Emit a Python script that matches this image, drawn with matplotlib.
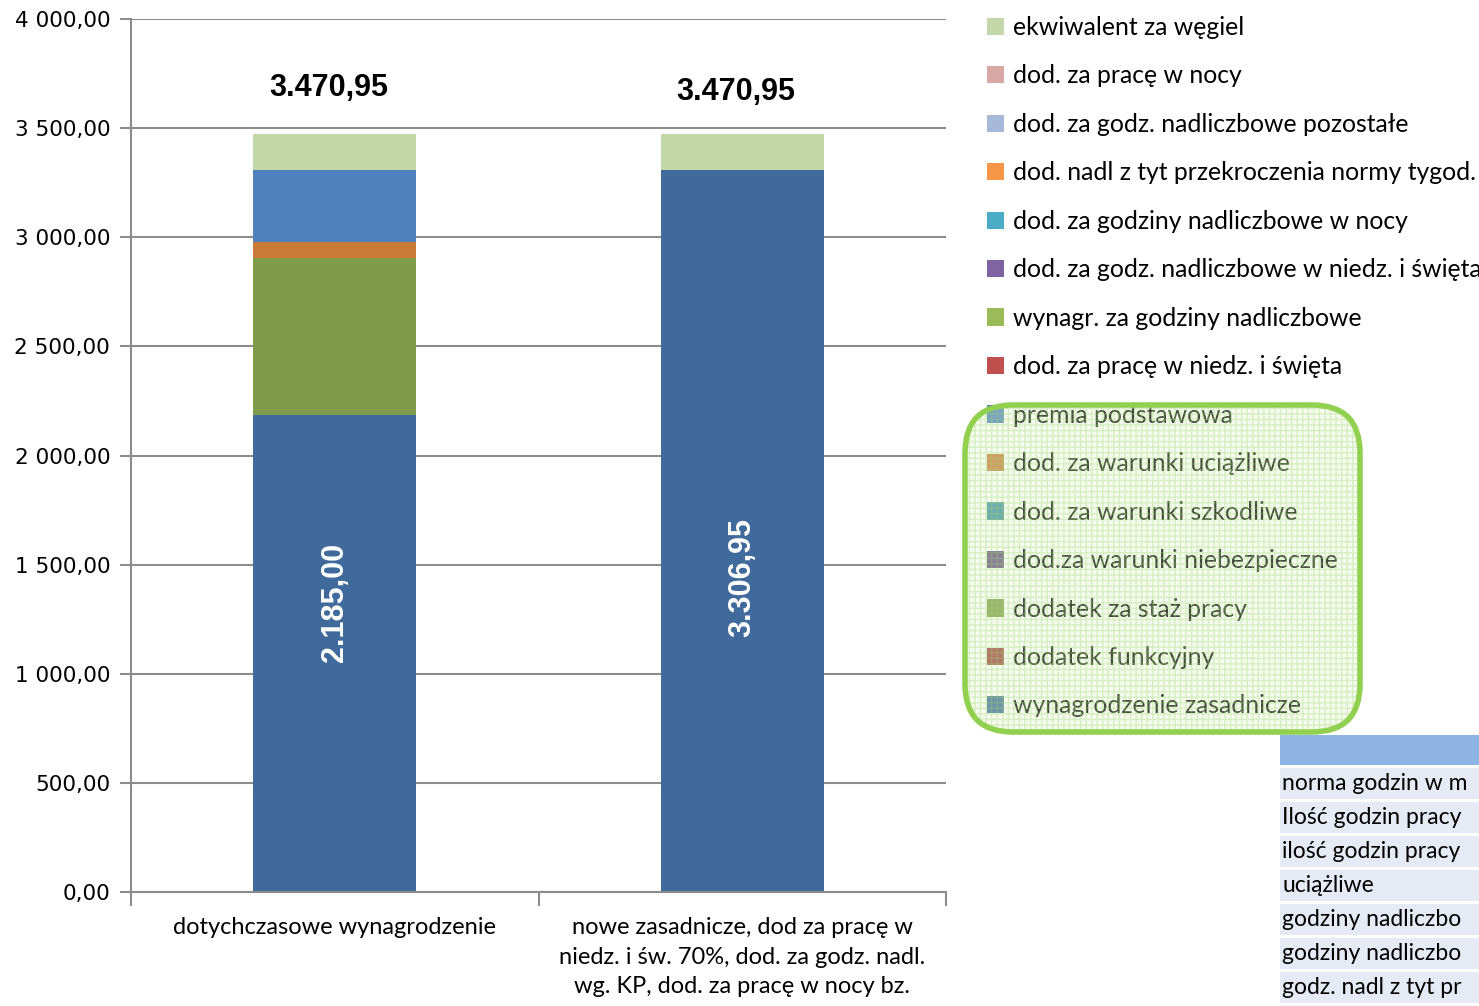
import numpy as np
import matplotlib
matplotlib.use('Agg')
import matplotlib.pyplot as plt
from matplotlib.patches import FancyBboxPatch, Rectangle
from matplotlib.ticker import FuncFormatter, FixedLocator
from matplotlib.transforms import IdentityTransform

# categories on the x axis
categories = ['dotychczasowe wynagrodzenie',
              'nowe zasadnicze, dod za pracę w\nniedz. i św. 70%, dod. za godz. nadl.\nwg. KP, dod. za pracę w nocy bz.']

# series from the bottom of the stack to the top
series_names = ['wynagrodzenie zasadnicze', 'dodatek funkcyjny', 'dodatek za staż pracy',
                'dod.za warunki niebezpieczne', 'dod. za warunki szkodliwe', 'dod. za warunki uciążliwe',
                'premia podstawowa', 'dod. za pracę w niedz. i święta', 'wynagr. za godziny nadliczbowe',
                'dod. za godz. nadliczbowe w niedz. i święta', 'dod. za godziny nadliczbowe w nocy',
                'dod. nadl z tyt przekroczenia normy tygod.', 'dod. za godz. nadliczbowe pozostałe',
                'dod. za pracę w nocy', 'ekwiwalent za węgiel']
series_colors = ['#3F6A9B', '#9E413E', '#7F9A48', '#654F80', '#3C8DA3', '#CA7B3A',
                 '#4F81BD', '#C0504D', '#9BBB59', '#8064A2', '#4BACC6',
                 '#F79646', '#A7B9D9', '#DAA7A7', '#C4D7A9']
# values per series: [dotychczasowe, nowe]
wynagrodzenie_zasadnicze = [2185.00, 3306.95]
dodatek_funkcyjny = [0, 0]
dodatek_staz = [721.05, 0]
dod_niebezpieczne = [0, 0]
dod_szkodliwe = [0, 0]
dod_uciazliwe = [72.00, 0]
premia_podstawowa = [328.90, 0]
dod_niedz = [0, 0]
wynagr_nadliczbowe = [0, 0]
dod_nadl_niedz = [0, 0]
dod_nadl_noc = [0, 0]
dod_nadl_norma = [0, 0]
dod_nadl_pozostale = [0, 0]
dod_noc = [0, 0]
ekwiwalent_wegiel = [164.00, 164.00]

series_values = [wynagrodzenie_zasadnicze, dodatek_funkcyjny, dodatek_staz, dod_niebezpieczne,
                 dod_szkodliwe, dod_uciazliwe, premia_podstawowa, dod_niedz, wynagr_nadliczbowe,
                 dod_nadl_niedz, dod_nadl_noc, dod_nadl_norma, dod_nadl_pozostale, dod_noc,
                 ekwiwalent_wegiel]

# rows of the table, only the part that is visible in the corner
table_rows = ['norma godzin w m', 'Ilość godzin pracy', 'ilość godzin pracy',
              'uciążliwe', 'godziny nadliczbo', 'godziny nadliczbo', 'godz. nadl z tyt pr']

label_font = 'Lato'
W, H = 1479, 1006


def fmt_pl(v):
    s = f'{v:,.2f}'
    return s.replace(',', ' ').replace('.', ',').replace(' ', '.')


fig = plt.figure(figsize=(W / 100, H / 100), dpi=100)
ax = fig.add_axes([131 / W, 1 - 892 / H, 815 / W, 873 / H])

x = np.arange(len(categories))
bottom = np.zeros(len(categories))
handles = []
for name, vals, col in zip(series_names, series_values, series_colors):
    vals = np.array(vals, dtype=float)
    b = ax.bar(x, vals, 0.4, bottom=bottom, color=col, label=name, zorder=2)
    handles.append(b)
    bottom += vals

ax.set_xlim(-0.5, 1.5)
ax.set_ylim(0, 4000)
ax.yaxis.set_major_locator(FixedLocator(np.arange(0, 4001, 500)))
ax.yaxis.set_major_formatter(FuncFormatter(lambda v, p: f'{v:,.2f}'.replace(',', ' ').replace('.', ',')))
ax.grid(axis='y', color='#8C8C8C', lw=1.5, zorder=0)
ax.set_axisbelow(True)
for s in ['top', 'right']:
    ax.spines[s].set_visible(False)
for s in ['left', 'bottom']:
    ax.spines[s].set_color('#8C8C8C')
    ax.spines[s].set_linewidth(1.5)
ax.tick_params(axis='y', length=8, width=1.5, color='#8C8C8C', labelsize=15.5, pad=7)
ax.set_xticks(x)
ax.set_xticklabels(categories, family=label_font, fontsize=17, linespacing=1.5)
ax.tick_params(axis='x', length=0, pad=18)
ax.set_xticks([-0.5, 0.5, 1.5], minor=True)
ax.tick_params(axis='x', which='minor', length=10, width=1.5, color='#8C8C8C')

# totals above bars
tot_offsets = [215, 195]
for i, t in enumerate(bottom):
    ax.text(x[i] - 0.015, t + tot_offsets[i], fmt_pl(t), ha='center', va='center',
            fontsize=22, fontweight='bold', family='Liberation Sans')

# values in the base segment
base_pos = [1325, 1443]
for i, v in enumerate(wynagrodzenie_zasadnicze):
    ax.text(x[i], base_pos[i], fmt_pl(v), ha='center', va='center', rotation=90,
            fontsize=22, fontweight='bold', color='white', family='Liberation Sans')

leg = ax.legend(handles[::-1], series_names[::-1], loc='upper left',
                bbox_to_anchor=(987 / W, 1 - 16 / H), bbox_transform=fig.transFigure,
                frameon=False, prop={'family': label_font, 'size': 17.8},
                handlelength=0.7, handleheight=0.7, handletextpad=0.35, labelspacing=1.03,
                borderaxespad=0, borderpad=0)

# green rounded box over the lower legend entries
box_fill = FancyBboxPatch((965, H - 732), 395, 327, boxstyle='round,pad=0,rounding_size=48',
                          transform=IdentityTransform(), facecolor=(0.88, 0.96, 0.80, 0.30),
                          edgecolor=(0.62, 0.84, 0.42, 0.35), hatch='+++', lw=0, zorder=5)
box_edge = FancyBboxPatch((965, H - 732), 395, 327, boxstyle='round,pad=0,rounding_size=48',
                          transform=IdentityTransform(), facecolor='none',
                          edgecolor='#92D050', lw=4, zorder=6)
fig.patches.extend([box_fill, box_edge])

# partial table in the bottom right
tax = fig.add_axes([1280 / W, 0, (W - 1280) / W, 1 - 733 / H])
tax.set_xlim(0, W - 1280)
tax.set_ylim(H, 733)
tax.axis('off')
tax.add_patch(Rectangle((0, 735), 300, 30, facecolor='#8EB4E3', lw=0))
for i, row in enumerate(table_rows):
    y0 = 768 + i * 34
    tax.add_patch(Rectangle((0, y0), 300, 31, facecolor='#E5EAF4', lw=0))
    tax.text(2, y0 + 16, row, va='center', ha='left', family=label_font, fontsize=16.5, clip_on=True)

fig.savefig('out.png', dpi=100)
